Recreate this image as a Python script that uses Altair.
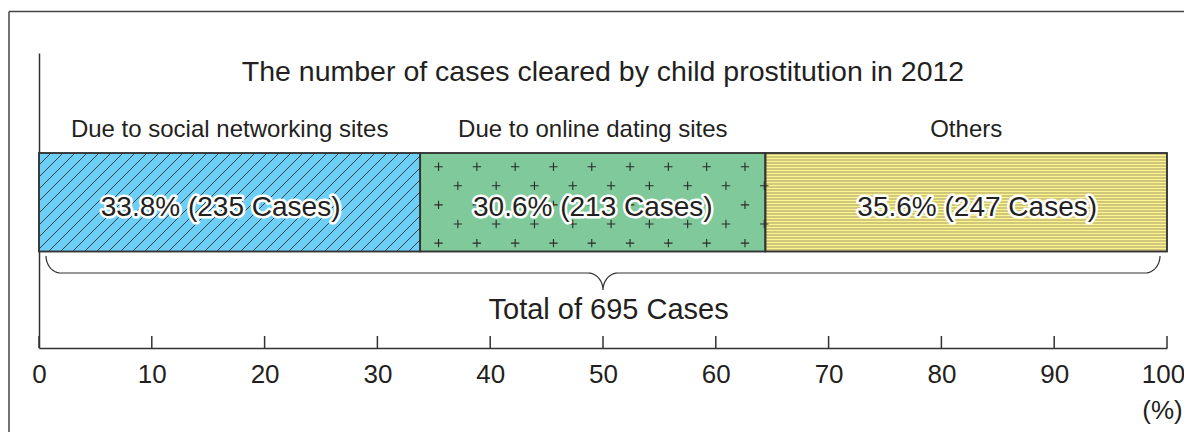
import altair as alt
import pandas as pd
import numpy as np

# ---------------- data ----------------
categories = ["Due to social networking sites", "Due to online dating sites", "Others"]
percents = [33.8, 30.6, 35.6]
cases = [235, 213, 247]
fills = ["#6dcff6", "#80c99b", "#fff48f"]
tick_values = [0, 10, 20, 30, 40, 50, 60, 70, 80, 90, 100]
title_text = "The number of  cases cleared by child prostitution in 2012"

# ---------------- layout ----------------
W, H = 1128, 295
PAD_L, PAD_T, PAD_R, PAD_B = 31, 45, 17, 84
PX = W / 100.0
FONT = "Liberation Sans"
INK = "#231f20"
LINE = "#333333"
BAR_LO, BAR_HI = 96.5, 195.0
LABEL_SHIFT_PX = [-9.0, 0.0, 11.0]   # in-bar label nudges (pixels)

starts = np.concatenate([[0.0], np.cumsum(percents)[:-1]])
ends = np.cumsum(percents)
total_cases = int(sum(cases))

bars = pd.DataFrame({
    "cat": categories,
    "x0": starts,
    "x1": ends,
    "mid": (starts + ends) / 2,
    "lx": (starts + ends) / 2 + np.array(LABEL_SHIFT_PX) / PX,
    "fill": fills,
    "label": [f"{p:.1f}% ({c} Cases)" for p, c in zip(percents, cases)],
})

XS = alt.Scale(domain=[0, 100], nice=False, zero=False)
YS = alt.Scale(domain=[0, H], nice=False, zero=False)

X_AX = alt.Axis(values=tick_values, ticks=False, tickSize=0, grid=False,
                domainColor=LINE, domainWidth=1.5, labelFont=FONT,
                labelFontSize=26, labelColor=INK, labelPadding=13,
                labelFlush=False,
                labelOffset={"condition": {"test": "datum.value == 100", "value": -4},
                             "value": 0},
                title="(%)", titleFont=FONT, titleFontSize=26,
                titleFontWeight="normal", titleColor=INK, titleX=W - 5,
                titleY=62, titleAlign="center", titleBaseline="middle")
Y_AX = alt.Axis(ticks=False, labels=False, grid=False, title=None,
                domainColor=LINE, domainWidth=1.5)


def X(f):
    return alt.X(f, scale=XS, axis=X_AX)


def Y(f):
    return alt.Y(f, scale=YS, axis=Y_AX)


def yd(v):
    return alt.YDatum(datum=v, type="quantitative", scale=YS, axis=Y_AX)


def y2d(v):
    return alt.Y2Datum(datum=v)


def xd(v):
    return alt.XDatum(datum=v, type="quantitative", scale=XS, axis=X_AX)


# ---- hatch for segment 1 (diagonal lines)
a, b = starts[0] * PX, ends[0] * PX
h = BAR_HI - BAR_LO
hatch = []
c = a - h
while c < b:
    t0 = max(0.0, a - c)
    t1 = min(h, b - c)
    if t1 > t0:
        hatch.append({"hx": (c + t0) / PX, "hx2": (c + t1) / PX,
                      "hy": BAR_LO + t0, "hy2": BAR_LO + t1})
    c += 12.0
hatch = pd.DataFrame(hatch)

# ---- plus pattern for segment 2
a, b = starts[1] * PX, ends[1] * PX
plus = []
for k in range(5):
    yy = BAR_HI - 13.7 - k * 19.1
    xx = a + (18.3 if k % 2 == 0 else 37.6)
    while xx <= b - 1:
        plus.append({"px": xx / PX, "py": yy})
        xx += 38.3
plus = pd.DataFrame(plus)

# ---- horizontal line pattern for segment 3
stripes = []
yy = BAR_LO + 1.5
while yy < BAR_HI - 0.5:
    stripes.append({"sx": starts[2], "sx2": ends[2], "sy": yy})
    yy += 3.0
stripes = pd.DataFrame(stripes)

# ---- brace under the bar
inset = 7.0
xl, xr, xc = inset, W - inset, 50 * PX
yt, ym, ytip = 92.0, 75.0, 58.0
r = 15.0
pts = []
th = np.linspace(0, np.pi / 2, 12)
for t in th:
    pts.append((xl + r - r * np.cos(t), yt - (yt - ym) * np.sin(t)))
for t in th:
    pts.append((xc - r + r * np.sin(t), ym - (ym - ytip) * (1 - np.cos(t))))
for t in th[::-1]:
    pts.append((xc + r - r * np.sin(t), ym - (ym - ytip) * (1 - np.cos(t))))
for t in th[::-1]:
    pts.append((xr - r + r * np.cos(t), yt - (yt - ym) * np.sin(t)))
brace = pd.DataFrame({"bx": [p[0] / PX for p in pts], "by": [p[1] for p in pts],
                      "o": list(range(len(pts)))})

ticks_df = pd.DataFrame({"t": tick_values})

# ---------------- layers ----------------
bar_layer = alt.Chart(bars).mark_rect(stroke=LINE, strokeWidth=1.5).encode(
    x=X("x0:Q"), x2="x1:Q", y=yd(BAR_LO), y2=y2d(BAR_HI),
    color=alt.Color("fill:N", scale=None),
)

hatch_layer = alt.Chart(hatch).mark_rule(color="#222", strokeWidth=0.8).encode(
    x=X("hx:Q"), x2="hx2:Q", y=Y("hy:Q"), y2="hy2:Q",
)

plus_layer = alt.Chart(plus).mark_point(
    shape="M-1,0H1M0,-1V1", filled=False, stroke="#2a2a2a", strokeWidth=1.1,
    size=70, opacity=1).encode(x=X("px:Q"), y=Y("py:Q"))

stripe_layer = alt.Chart(stripes).mark_rule(color="#5f5e4c", strokeWidth=0.6).encode(
    x=X("sx:Q"), x2="sx2:Q", y=Y("sy:Q"),
)

outline_layer = alt.Chart(bars).mark_rect(fill=None, stroke=LINE, strokeWidth=1.5).encode(
    x=X("x0:Q"), x2="x1:Q", y=yd(BAR_LO), y2=y2d(BAR_HI),
)

halo_layer = alt.Chart(bars).mark_text(
    font=FONT, fontSize=28, stroke="white", strokeWidth=5, strokeJoin="round",
    fill="white", baseline="middle").encode(
    x=X("lx:Q"), y=yd(140), text="label:N")

value_layer = alt.Chart(bars).mark_text(
    font=FONT, fontSize=28, color=INK, baseline="middle").encode(
    x=X("lx:Q"), y=yd(140), text="label:N")

cat_layer = alt.Chart(bars).mark_text(
    font=FONT, fontSize=24, color=INK, baseline="middle").encode(
    x=X("mid:Q"), y=yd(218), text="cat:N")

title_layer = alt.Chart(pd.DataFrame({"t": [title_text]})).mark_text(
    font=FONT, fontSize=28.5, color=INK, baseline="middle").encode(
    x=xd(50), y=yd(276), text="t:N")

total_layer = alt.Chart(pd.DataFrame({"t": [f"Total of {total_cases} Cases"]})).mark_text(
    font=FONT, fontSize=29, color=INK, baseline="middle").encode(
    x=xd(50.5), y=yd(38), text="t:N")

brace_layer = alt.Chart(brace).mark_line(color=LINE, strokeWidth=1.2).encode(
    x=X("bx:Q"), y=Y("by:Q"), order="o:Q",
)

tick_layer = alt.Chart(ticks_df).mark_rule(color=LINE, strokeWidth=1.5).encode(
    x=X("t:Q"), y=yd(0), y2=y2d(12))

frame_top = alt.Chart(ticks_df.head(1)).mark_rule(color="#444", strokeWidth=1.5).encode(
    x=alt.value(-PAD_L + 1), x2=alt.value(W + PAD_R), y=alt.value(-PAD_T + 3.5))
frame_left = alt.Chart(ticks_df.head(1)).mark_rule(color="#444", strokeWidth=1.5).encode(
    x=alt.value(-PAD_L + 1), y=alt.value(-PAD_T + 3.5), y2=alt.value(H + PAD_B))

chart = alt.layer(
    bar_layer, hatch_layer, plus_layer, stripe_layer, outline_layer,
    brace_layer, tick_layer, halo_layer, value_layer, cat_layer,
    title_layer, total_layer, frame_top, frame_left,
).properties(
    width=W, height=H,
    padding={"left": PAD_L, "top": PAD_T, "right": PAD_R, "bottom": PAD_B},
    autosize=alt.AutoSizeParams(type="none"),
).configure(background="white").configure_view(
    stroke="transparent", strokeWidth=0).configure_axis(grid=False)

chart.save("out.html", embed_options={"renderer": "svg", "actions": False})
